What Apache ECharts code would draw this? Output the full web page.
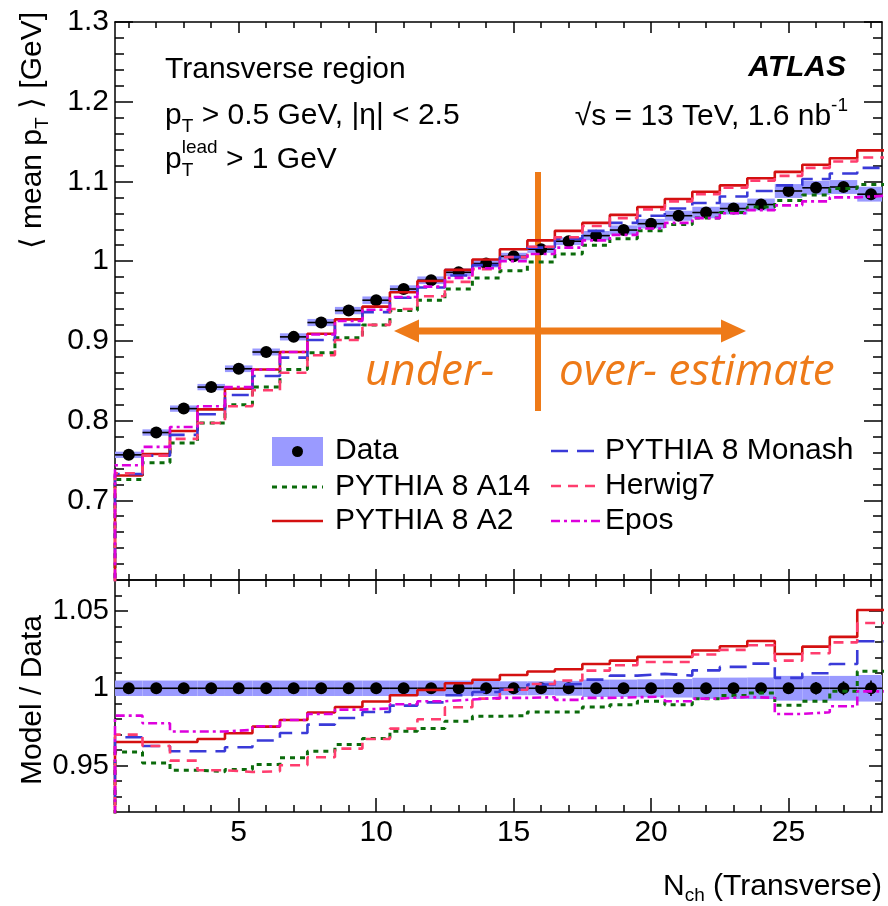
<!DOCTYPE html>
<html>
<head>
<meta charset="utf-8">
<script src="https://cdn.jsdelivr.net/npm/echarts@6/dist/echarts.min.js"></script>
<style>
  html, body { margin: 0; padding: 0; background: #fff; }
  #chart { width: 888px; height: 906px; }
</style>
</head>
<body>
<div id="chart"></div>
<script>
// N_ch bin centres (bins are 1 wide)
const nch = [1, 2, 3, 4, 5, 6, 7, 8, 9, 10, 11, 12, 13, 14, 15, 16, 17, 18, 19, 20, 21, 22, 23, 24, 25, 26, 27, 28];

// top panel: <mean pT> [GeV]
const dataMean = [0.757, 0.785, 0.815, 0.842, 0.865, 0.886, 0.905, 0.923, 0.938, 0.951, 0.965, 0.976, 0.986, 0.997, 1.006, 1.015, 1.025, 1.032, 1.039, 1.047, 1.057, 1.061, 1.066, 1.071, 1.088, 1.092, 1.093, 1.084];
const dataSyst = [0.004, 0.004, 0.004, 0.004, 0.0042, 0.0044, 0.0045, 0.0045, 0.0046, 0.0047, 0.0047, 0.0048, 0.0048, 0.0049, 0.0045, 0.0046, 0.0049, 0.0058, 0.0058, 0.006, 0.0063, 0.0072, 0.0074, 0.0075, 0.0087, 0.0087, 0.0087, 0.0093];
const a14 = [0.726, 0.747, 0.772, 0.797, 0.820, 0.842, 0.864, 0.885, 0.904, 0.920, 0.938, 0.951, 0.965, 0.979, 0.988, 0.999, 1.009, 1.020, 1.028, 1.038, 1.046, 1.054, 1.061, 1.068, 1.076, 1.083, 1.091, 1.096];
const a2 = [0.731, 0.758, 0.787, 0.814, 0.840, 0.864, 0.886, 0.909, 0.927, 0.943, 0.961, 0.975, 0.989, 1.002, 1.015, 1.026, 1.038, 1.048, 1.058, 1.068, 1.078, 1.087, 1.095, 1.104, 1.112, 1.121, 1.129, 1.139];
const monash = [0.733, 0.756, 0.782, 0.808, 0.832, 0.856, 0.879, 0.901, 0.920, 0.936, 0.954, 0.967, 0.982, 0.995, 1.005, 1.017, 1.028, 1.038, 1.048, 1.057, 1.066, 1.073, 1.081, 1.088, 1.095, 1.103, 1.110, 1.117];
const herwig = [0.734, 0.756, 0.777, 0.797, 0.818, 0.838, 0.860, 0.882, 0.901, 0.920, 0.940, 0.956, 0.974, 0.990, 1.005, 1.018, 1.030, 1.044, 1.054, 1.065, 1.075, 1.084, 1.092, 1.101, 1.107, 1.117, 1.125, 1.130];
const epos = [0.744, 0.767, 0.792, 0.818, 0.842, 0.864, 0.886, 0.908, 0.925, 0.939, 0.955, 0.968, 0.979, 0.991, 1.000, 1.009, 1.017, 1.026, 1.033, 1.041, 1.048, 1.054, 1.060, 1.064, 1.070, 1.075, 1.080, 1.082];

// bottom panel: Model / Data
const ratioSyst = [0.005, 0.005, 0.005, 0.005, 0.005, 0.005, 0.005, 0.005, 0.005, 0.005, 0.005, 0.005, 0.005, 0.005, 0.0045, 0.0045, 0.0048, 0.0056, 0.0056, 0.0058, 0.006, 0.0068, 0.0069, 0.007, 0.008, 0.008, 0.008, 0.0086];
const ratioStat = [0, 0, 0, 0, 0, 0, 0, 0, 0, 0, 0, 0, 0, 0, 0, 0, 0, 0, 0, 0, 0, 0, 0, 0, 0, 0.004, 0.0045, 0.005];
const a14Ratio = [0.9588, 0.9517, 0.947, 0.9461, 0.9474, 0.9507, 0.955, 0.9593, 0.9636, 0.9675, 0.9722, 0.974, 0.9787, 0.9819, 0.9823, 0.9847, 0.9847, 0.9879, 0.9894, 0.9916, 0.9894, 0.9933, 0.9953, 0.997, 0.989, 0.9916, 0.9981, 1.011];
const a2Ratio = [0.9653, 0.9653, 0.9653, 0.9672, 0.9709, 0.9752, 0.9795, 0.9843, 0.9879, 0.9914, 0.9955, 0.9989, 1.0032, 1.0055, 1.0086, 1.0108, 1.0123, 1.0157, 1.0179, 1.0203, 1.0203, 1.0244, 1.0272, 1.0306, 1.0222, 1.0269, 1.0332, 1.0506];
const monashRatio = [0.9683, 0.9627, 0.9593, 0.9593, 0.9619, 0.9662, 0.9711, 0.9765, 0.9808, 0.9847, 0.9888, 0.9909, 0.9955, 0.9976, 0.9991, 1.0024, 1.0028, 1.0056, 1.0082, 1.0093, 1.0082, 1.0116, 1.0138, 1.0159, 1.0067, 1.0097, 1.0157, 1.0304];
const herwigRatio = [0.970, 0.9627, 0.9532, 0.947, 0.9459, 0.9463, 0.9502, 0.9554, 0.961, 0.9672, 0.9739, 0.980, 0.9877, 0.9933, 0.999, 1.0028, 1.005, 1.0114, 1.0149, 1.017, 1.017, 1.0218, 1.0248, 1.0278, 1.0179, 1.0226, 1.0297, 1.0422];
const eposRatio = [0.9823, 0.9774, 0.972, 0.972, 0.9731, 0.9754, 0.9795, 0.9834, 0.9862, 0.987, 0.9897, 0.9916, 0.9927, 0.9938, 0.9938, 0.9942, 0.9925, 0.9938, 0.9942, 0.9946, 0.9916, 0.9933, 0.9944, 0.9938, 0.9834, 0.9845, 0.9884, 0.998];

// axis ticks / labels
const xMajor = [5, 10, 15, 20, 25];
const topLabels = [0.7, 0.8, 0.9, 1, 1.1, 1.2, 1.3];
const ratioLabels = [0.95, 1, 1.05];

const FONT = '"Liberation Sans", Arial, Helvetica, sans-serif';
const BAND = '#9a9aff';
const ORANGE = '#EE7A18';

const models = [
  { name: 'PYTHIA 8 A14', top: a14, ratio: a14Ratio, color: '#0b6b0b', width: 3, dash: [5, 5] },
  { name: 'PYTHIA 8 A2', top: a2, ratio: a2Ratio, color: '#d41010', width: 2.6, dash: 'solid' },
  { name: 'PYTHIA 8 Monash', top: monash, ratio: monashRatio, color: '#3a3ad8', width: 2.6, dash: [17, 9] },
  { name: 'Herwig7', top: herwig, ratio: herwigRatio, color: '#ff3d6e', width: 2.6, dash: [10, 7] },
  { name: 'Epos', top: epos, ratio: eposRatio, color: '#dd00dd', width: 2.6, dash: [9, 4, 3, 4] }
];

// minor tick lists
function minorList(lo, hi, step, skip) {
  const out = [];
  for (let v = lo; v <= hi + 1e-9; v += step) {
    const r = Math.round(v * 1000) / 1000;
    if (skip.indexOf(r) < 0) out.push(r);
  }
  return out;
}
const xMinor = minorList(1, 28, 1, xMajor);
const topMinor = minorList(0.62, 1.28, 0.02, topLabels);
const ratioMinor = minorList(0.93, 1.06, 0.01, ratioLabels);

const XMIN = 0.5, XMAX = 28.4;
const black = { color: '#000', width: 1.5 };

function xAxes(grid, majLen, minLen, labels) {
  const base = {
    type: 'value', gridIndex: grid, min: XMIN, max: XMAX,
    splitLine: { show: false }, axisLabel: { show: false }
  };
  const out = [];
  ['bottom', 'top'].forEach(function(pos) {
    out.push(Object.assign({}, base, {
      position: pos,
      axisLine: { show: true, onZero: false, lineStyle: black },
      axisTick: { show: true, inside: true, length: majLen, customValues: xMajor, lineStyle: black },
      axisLabel: (labels && pos === 'bottom') ? {
        show: true, customValues: xMajor, color: '#000', fontSize: 30, fontFamily: FONT, margin: 6
      } : { show: false }
    }));
    out.push(Object.assign({}, base, {
      position: pos,
      axisLine: { show: false },
      axisTick: { show: true, inside: true, length: minLen, customValues: xMinor, lineStyle: black }
    }));
  });
  return out;
}

function yAxes(grid, min, max, major, minor, majLen, minLen, fontSize) {
  const base = {
    type: 'value', gridIndex: grid, min: min, max: max,
    splitLine: { show: false }, axisLabel: { show: false }
  };
  const out = [];
  ['left', 'right'].forEach(function(pos) {
    out.push(Object.assign({}, base, {
      position: pos,
      axisLine: { show: true, onZero: false, lineStyle: black },
      axisTick: { show: true, inside: true, length: majLen, customValues: major, lineStyle: black },
      axisLabel: pos === 'left' ? {
        show: true, customValues: major, color: '#000', fontSize: fontSize, fontFamily: FONT, margin: 6
      } : { show: false }
    }));
    out.push(Object.assign({}, base, {
      position: pos,
      axisLine: { show: false },
      axisTick: { show: true, inside: true, length: minLen, customValues: minor, lineStyle: black }
    }));
  });
  return out;
}

function stepData(vals) {
  const pts = [[nch[0] - 0.5, 0]];
  vals.forEach(function(v, i) { pts.push([nch[i] - 0.5, v]); });
  pts.push([nch[nch.length - 1] + 0.5, vals[vals.length - 1]]);
  return pts;
}

function bandSeries(xi, yi, vals, errs) {
  return {
    type: 'custom', xAxisIndex: xi, yAxisIndex: yi, clip: true, silent: true,
    data: nch.map(function(n, i) { return [n, vals[i], errs[i]]; }),
    renderItem: function(params, api) {
      const x = api.value(0), y = api.value(1), e = api.value(2);
      const p1 = api.coord([x - 0.5, y + e]);
      const p2 = api.coord([x + 0.5, y - e]);
      return { type: 'rect', shape: { x: p1[0], y: p1[1], width: p2[0] - p1[0], height: p2[1] - p1[1] }, style: { fill: BAND } };
    }
  };
}

function barSeries(xi, yi, vals, stat) {
  return {
    type: 'custom', xAxisIndex: xi, yAxisIndex: yi, clip: true, silent: true,
    data: nch.map(function(n, i) { return [n, vals[i], stat ? stat[i] : 0]; }),
    renderItem: function(params, api) {
      const x = api.value(0), y = api.value(1), s = api.value(2);
      const a = api.coord([x - 0.5, y]), b = api.coord([x + 0.5, y]);
      const kids = [{ type: 'line', shape: { x1: a[0], y1: a[1], x2: b[0], y2: b[1] }, style: { stroke: '#000', lineWidth: 1.6 } }];
      if (s > 0) {
        const c = api.coord([x, y + s]), d = api.coord([x, y - s]);
        kids.push({ type: 'line', shape: { x1: c[0], y1: c[1], x2: d[0], y2: d[1] }, style: { stroke: '#000', lineWidth: 1.6 } });
      }
      return { type: 'group', children: kids };
    }
  };
}

function lineSeries(m, xi, yi, vals) {
  return {
    type: 'line', name: m.name, xAxisIndex: xi, yAxisIndex: yi, step: 'end',
    symbol: 'none', clip: true, silent: true,
    lineStyle: { color: m.color, width: m.width, type: m.dash },
    data: stepData(vals)
  };
}

function pointSeries(xi, yi, vals) {
  return {
    type: 'scatter', name: 'Data', xAxisIndex: xi, yAxisIndex: yi, symbolSize: 12,
    itemStyle: { color: '#000', opacity: 1 }, silent: true,
    data: nch.map(function(n, i) { return [n, vals[i]]; })
  };
}

// text helpers (sub/superscripts placed by measuring)
const measureCtx = document.createElement('canvas').getContext('2d');
function fontStr(seg) {
  return (seg.style || 'normal') + ' ' + (seg.weight || 'normal') + ' ' + seg.size + 'px ' + (seg.family || FONT);
}
function textRow(segs, x, y, align, rotation, color) {
  let w = 0;
  const widths = segs.map(function(s) {
    measureCtx.font = fontStr(s);
    const ww = measureCtx.measureText(s.t).width;
    if (!s.stack) w += ww;
    return ww;
  });
  let cx = align === 'right' ? -w : (align === 'center' ? -w / 2 : 0);
  const kids = [];
  segs.forEach(function(s, i) {
    kids.push({
      type: 'text', x: cx, y: s.dy || 0,
      style: { text: s.t, font: fontStr(s), fill: color || '#000', align: 'left', verticalAlign: 'middle' }
    });
    if (!s.stack) cx += widths[i];
  });
  return { type: 'group', x: x, y: y, rotation: rotation || 0, children: kids };
}

const T = 30, S = 19;
const graphics = [
  textRow([{ t: 'Transverse region', size: T }], 165, 70, 'left'),
  textRow([{ t: 'p', size: T }, { t: 'T', size: S, dy: 11 }, { t: ' > 0.5 GeV, |η| < 2.5', size: T }], 165, 116, 'left'),
  textRow([{ t: 'p', size: T }, { t: 'T', size: S, dy: 11, stack: true }, { t: 'lead', size: S, dy: -12 }, { t: ' > 1 GeV', size: T }], 165, 160, 'left'),
  textRow([{ t: 'ATLAS', size: T, weight: 'bold', style: 'italic' }], 846, 68, 'right'),
  textRow([{ t: '√s = 13 TeV, 1.6 nb', size: T }, { t: '-1', size: S, dy: -11 }], 848, 117, 'right'),
  textRow([{ t: '⟨ mean p', size: T }, { t: 'T', size: S, dy: 10 }, { t: ' ⟩ [GeV]', size: T }], 33, 12, 'right', Math.PI / 2),
  textRow([{ t: 'Model / Data', size: T }], 33, 700, 'center', Math.PI / 2),
  textRow([{ t: 'N', size: T }, { t: 'ch', size: S, dy: 9 }, { t: ' (Transverse)', size: T }], 882, 887, 'right'),

  // legend
  { type: 'rect', shape: { x: 272, y: 437, width: 51, height: 29 }, style: { fill: BAND } },
  { type: 'circle', shape: { cx: 297.5, cy: 451.5, r: 5.5 }, style: { fill: '#000' } },
  textRow([{ t: 'Data', size: T }], 335, 451, 'left')
];
const legendPos = [[272, 487, 335], [272, 521, 335], [551, 451, 605], [551, 486, 605], [551, 521, 605]];
models.forEach(function(m, i) {
  const p = legendPos[i];
  graphics.push({
    type: 'line', shape: { x1: p[0], y1: p[1], x2: p[0] + 51, y2: p[1] },
    style: { stroke: m.color, lineWidth: m.width, lineDash: m.dash === 'solid' ? null : m.dash }
  });
  graphics.push(textRow([{ t: m.name, size: T }], p[2], p[1], 'left'));
});

// orange annotation
graphics.push(
  { type: 'line', shape: { x1: 538, y1: 172, x2: 538, y2: 411 }, style: { stroke: ORANGE, lineWidth: 6 } },
  { type: 'line', shape: { x1: 412, y1: 331, x2: 726, y2: 331 }, style: { stroke: ORANGE, lineWidth: 7 } },
  { type: 'polygon', shape: { points: [[394, 331], [419, 319.5], [419, 342.5]] }, style: { fill: ORANGE } },
  { type: 'polygon', shape: { points: [[746, 331], [721, 319.5], [721, 342.5]] }, style: { fill: ORANGE } },
  textRow([{ t: 'under-', size: 44, style: 'italic', family: '"Open Sans", sans-serif' }], 365, 372, 'left', 0, ORANGE),
  textRow([{ t: 'over- estimate', size: 44, style: 'italic', family: '"Open Sans", sans-serif' }], 559, 372, 'left', 0, ORANGE)
);

const series = [];
series.push(bandSeries(0, 0, dataMean, dataSyst));
models.forEach(function(m) { series.push(lineSeries(m, 0, 0, m.top)); });
series.push(barSeries(0, 0, dataMean, null));
series.push(pointSeries(0, 0, dataMean));

const ones = nch.map(function() { return 1; });
series.push(bandSeries(4, 4, ones, ratioSyst));
models.forEach(function(m) { series.push(lineSeries(m, 4, 4, m.ratio)); });
series.push(barSeries(4, 4, ones, ratioStat));
series.push(pointSeries(4, 4, ones));

const chart = echarts.init(document.getElementById('chart'), null, { renderer: 'canvas' });
chart.setOption({
  animation: false,
  backgroundColor: '#fff',
  textStyle: { fontFamily: FONT },
  grid: [
    { left: 115, right: 6, top: 22, height: 558 },
    { left: 115, right: 6, top: 580, height: 232 }
  ],
  xAxis: xAxes(0, 11, 6, false).concat(xAxes(1, 14, 7, true)),
  yAxis: yAxes(0, 0.6, 1.3, topLabels, topMinor, 18, 9, 30)
    .concat(yAxes(1, 0.92, 1.07, ratioLabels, ratioMinor, 13, 7, 29)),
  series: series,
  graphic: graphics
});
</script>
</body>
</html>
